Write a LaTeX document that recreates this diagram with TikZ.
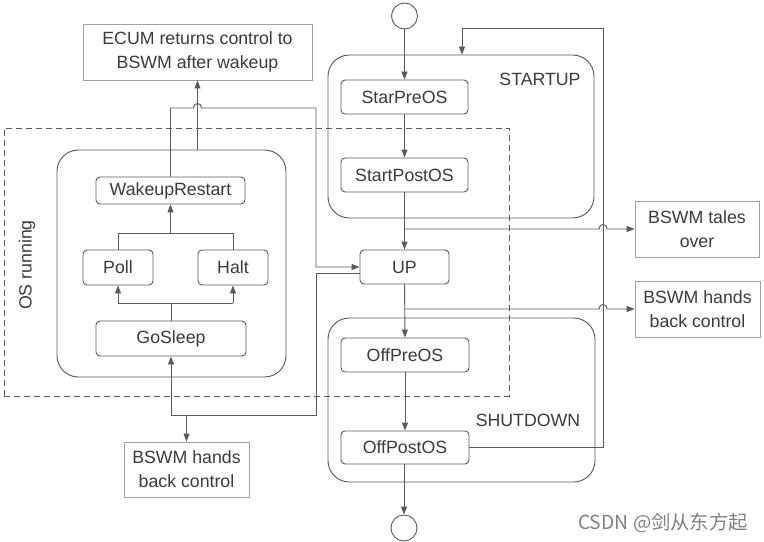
\documentclass[tikz,border=0pt]{standalone}
\usepackage{fontspec}
\setmainfont{Liberation Sans}
\newfontfamily\cjk{Noto Sans CJK SC}
\usetikzlibrary{arrows.meta}
\definecolor{linec}{HTML}{5A5A5A}
\definecolor{txtc}{HTML}{3A3A3A}
\definecolor{notec}{HTML}{A0A0A0}
\definecolor{wmc}{HTML}{808080}
\begin{document}
\begin{tikzpicture}[x=0.75pt,y=-0.75pt,
 sz/.style 2 args={minimum width=#1*0.75pt,minimum height=#2*0.75pt},
 base/.style={inner sep=0pt, text=txtc, font=\fontsize{13.3}{18}\selectfont},
 state/.style={base, draw=linec, line width=0.7pt, rounded corners=3pt},
 note/.style={base, draw=notec, line width=0.6pt, align=center},
 group/.style={draw=linec, line width=0.7pt, rounded corners=16pt, inner sep=0pt},
 dashbox/.style={draw=linec, line width=0.6pt, dash pattern=on 4.5pt off 3pt, inner sep=0pt},
 conn/.style={draw=linec, line width=0.7pt},
 arr/.style={conn, -{Triangle[length=6pt,width=4.5pt]}},
 pseudo/.style={circle, draw=linec, line width=0.7pt, minimum size=26*0.75pt, inner sep=0pt},
 lbl/.style={base}
]
\useasboundingbox (0,0) rectangle (764,542);
% frames
\node[dashbox, sz={505}{268}] (osrun) at (256.5,262) {};
\node[group, sz={229}{227}] (osbox) at (171.5,263.5) {};
\node[group, sz={266}{163}] (startup) at (461,136.5) {};
\node[group, sz={267}{164}] (shutdown) at (461.5,400) {};
% states
\node[note, sz={229}{56}] (ecum) at (197.5,52) {ECUM returns control to\\BSWM after wakeup};
\node[state, sz={149}{27}] (wake) at (170.5,190.5) {WakeupRestart};
\node[state, sz={70}{35}] (poll) at (118,267.5) {Poll};
\node[state, sz={70}{35}] (halt) at (233,267.5) {Halt};
\node[state, sz={150}{35}] (gosleep) at (171,338.5) {GoSleep};
\node[note, sz={125}{55}] (bswml) at (186.5,469.5) {BSWM hands\\back control};
\node[state, sz={127}{34}] (starpre) at (404.5,97) {StarPreOS};
\node[state, sz={127}{34}] (startpost) at (404.5,175) {StartPostOS};
\node[state, sz={89}{34}] (up) at (404.5,267) {UP};
\node[state, sz={128}{34}] (offpre) at (405,355) {OffPreOS};
\node[state, sz={128}{33}] (offpost) at (405,447.5) {OffPostOS};
\node[pseudo] (init) at (404.5,16) {};
\node[pseudo] (final) at (404,528) {};
\node[note, sz={124}{56}] (tales) at (697,229) {BSWM tales\\over};
\node[note, sz={125}{56}] (bswmr) at (697.5,309) {BSWM hands\\back control};
\node[lbl] (lstartup) at (540,79) {STARTUP};
\node[lbl] (lshutdown) at (528,420) {SHUTDOWN};
\node[lbl, rotate=90] (losrun) at (27,265) {OS running};
\node[font=\cjk\fontsize{14.5}{16}\selectfont, text=wmc, inner sep=0pt] (wm) at (663,523) {CSDN @剑从东方起};
% main flow
\draw[arr] (init.south) -- (starpre.north);
\draw[arr] (starpre) -- (startpost);
\draw[arr] (startpost) -- (up);
\coordinate (b1) at (404.5,229);
\draw[arr] (b1) -- (599,229) .. controls (599,223) and (607,223) .. (607,229) -- (tales.west);
\draw[arr] (up) -- (offpre);
\coordinate (b2) at (404.5,309);
\draw[arr] (b2) -- (599,309) .. controls (599,303) and (607,303) .. (607,309) -- (bswmr.west);
\draw[arr] (offpre) -- (offpost);
\draw[arr] (offpost.south -| final.north) -- (final.north);
% feedback to STARTUP
\coordinate (fa) at (603,28);
\coordinate (fb) at (462,28);
\draw[arr] (offpost.east) -| (fa) -- (fb) -- (fb |- startup.north);
% wakeup path to UP
\coordinate (w1) at (170.5,108);
\coordinate (w2) at (316,108);
\coordinate (w3) at (316,267);
\draw[arr] (wake.north) -- (w1) -- (193.5,108) .. controls (193.5,102) and (201.5,102) .. (201.5,108) -- (w2) -- (w3) -- (up.west);
\draw[arr] (ecum.south |- osbox.north) -- (ecum.south);
% UP to GoSleep
\coordinate (j1) at (316,273);
\coordinate (j2) at (316,415);
\draw[arr] (up.west |- j1) -- (j1) -- (j2) -- (gosleep.south |- j2) -- (gosleep.south);
\draw[arr] (bswml.north |- j2) -- (bswml.north);
% GoSleep to Poll / Halt
\coordinate (j3) at (171,303);
\draw[conn] (gosleep.north) -- (gosleep.north |- j3);
\draw[conn] (poll.south |- j3) -- (halt.south |- j3);
\draw[arr] (poll.south |- j3) -- (poll.south);
\draw[arr] (halt.south |- j3) -- (halt.south);
% Poll / Halt to WakeupRestart
\coordinate (j4) at (171,233);
\draw[conn] (poll.north) -- (poll.north |- j4) -- (halt.north |- j4) -- (halt.north);
\draw[arr] (wake.south |- j4) -- (wake.south);
\end{tikzpicture}
\end{document}
